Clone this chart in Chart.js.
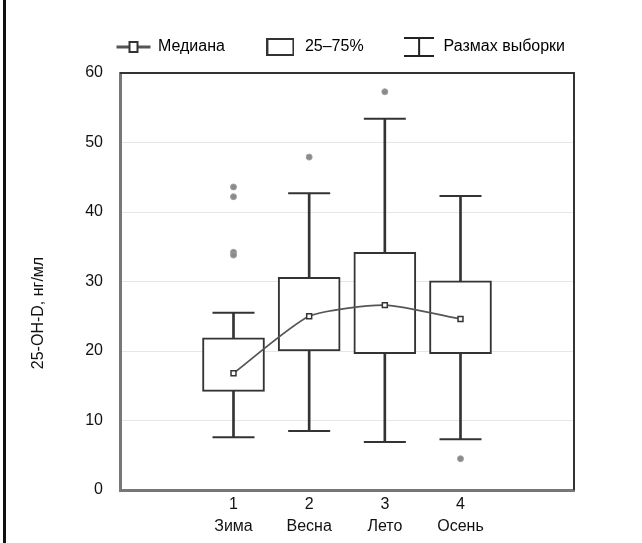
<!DOCTYPE html>
<html>
<head>
<meta charset="utf-8">
<script src="https://cdn.jsdelivr.net/npm/chart.js@4.4.0/dist/chart.umd.min.js"></script>
<style>
  html, body { margin: 0; padding: 0; background: #fff; }
  #wrap { position: relative; width: 642px; height: 543px; }
  #wrap:before { content: ""; position: absolute; left: 3px; top: 0; width: 3px; height: 543px; background: #111; }
</style>
</head>
<body>
<div id="wrap"><canvas id="chart" width="642" height="543"></canvas></div>
<script>
// Box plot values
const positions = [1, 2, 3, 4];
const numLabels = ["1", "2", "3", "4"];
const seasons = ["Зима", "Весна", "Лето", "Осень"];
const whiskerLow = [7.6, 8.5, 6.9, 7.3];
const q1 = [14.2, 20.0, 19.6, 19.6];
const medians = [16.8, 25.0, 26.6, 24.6];
const q3 = [21.9, 30.6, 34.2, 30.1];
const whiskerHigh = [25.5, 42.7, 53.4, 42.3];
const outlierX = [1, 1, 1, 1, 2, 3, 4];
const outlierY = [43.6, 42.2, 34.2, 33.8, 47.9, 57.3, 4.5];
const xTicks = [0, 1, 2, 3, 4, 5];
const legendTexts = ["Медиана", "25–75%", "Размах выборки"];
const yTitle = "25-OH-D, нг/мл";

const FONT = '"Liberation Sans", Arial, sans-serif';
const ink = "#333";

// Small legend icons
function makeIcon(w, h, draw) {
  const c = document.createElement("canvas");
  c.width = w;
  c.height = h;
  const g = c.getContext("2d");
  draw(g);
  return c;
}

const medianIcon = makeIcon(36, 14, (g) => {
  g.strokeStyle = "#555";
  g.lineWidth = 3;
  g.beginPath();
  g.moveTo(1, 7);
  g.lineTo(35, 7);
  g.stroke();
  g.fillStyle = "#fff";
  g.fillRect(14, 2, 8, 10);
  g.strokeStyle = ink;
  g.lineWidth = 2;
  g.strokeRect(14, 2, 8, 10);
});

const boxIcon = makeIcon(28, 18, (g) => {
  g.strokeStyle = ink;
  g.lineWidth = 2;
  g.strokeRect(1, 1, 26, 16);
});

const whiskerIcon = makeIcon(30, 22, (g) => {
  g.strokeStyle = "#222";
  g.lineWidth = 2;
  g.beginPath();
  g.moveTo(0, 2); g.lineTo(30, 2);
  g.moveTo(15, 2); g.lineTo(15, 20);
  g.moveTo(0, 20); g.lineTo(30, 20);
  g.stroke();
});

const legendIcons = [medianIcon, boxIcon, whiskerIcon];

const toPoints = (xs, ys) => xs.map((x, i) => ({ x: x, y: ys[i] }));
const toRanges = (lo, hi) => positions.map((x, i) => ({ x: x, y: [lo[i], hi[i]] }));

// Frame on top and right of the plot, fixed legend height, rotated axis title
const framePlugin = {
  id: "frame",
  beforeInit(chart) {
    const fit = chart.legend.fit;
    chart.legend.fit = function () {
      fit.call(this);
      this.height = 73;
    };
  },
  beforeDatasetsDraw(chart) {
    const { ctx, chartArea } = chart;
    ctx.save();
    ctx.strokeStyle = ink;
    ctx.lineWidth = 2;
    ctx.beginPath();
    ctx.moveTo(chartArea.left, chartArea.top);
    ctx.lineTo(chartArea.right, chartArea.top);
    ctx.lineTo(chartArea.right, chartArea.bottom);
    ctx.stroke();
    ctx.restore();
  },
  afterDraw(chart) {
    const ctx = chart.ctx;
    ctx.save();
    ctx.translate(39, 313);
    ctx.rotate(-Math.PI / 2);
    ctx.font = "16px " + FONT;
    ctx.fillStyle = "#111";
    ctx.textAlign = "center";
    ctx.textBaseline = "middle";
    ctx.fillText(yTitle, 0, 0);
    ctx.restore();
  },
};

new Chart(document.getElementById("chart"), {
  type: "bar",
  data: {
    datasets: [
      {
        type: "line",
        label: legendTexts[0],
        data: toPoints(positions, medians),
        borderColor: "#555",
        borderWidth: 1.8,
        tension: 0.2,
        pointStyle: "rect",
        pointRadius: 3.5,
        pointBackgroundColor: "#fff",
        pointBorderColor: ink,
        pointBorderWidth: 1.5,
        order: 0,
      },
      {
        type: "scatter",
        label: "outliers",
        data: toPoints(outlierX, outlierY),
        pointStyle: "circle",
        pointRadius: 3,
        backgroundColor: "#8a8a8a",
        borderColor: "#a0a0a0",
        borderWidth: 1,
        order: 1,
      },
      {
        type: "scatter",
        label: "caps",
        data: toPoints(positions, whiskerLow).concat(toPoints(positions, whiskerHigh)),
        pointStyle: "line",
        pointRadius: 21,
        borderColor: ink,
        borderWidth: 2,
        order: 2,
      },
      {
        label: "whiskerLow",
        data: toRanges(whiskerLow, q1),
        backgroundColor: ink,
        borderWidth: 0,
        barThickness: 2,
        grouped: false,
        order: 3,
      },
      {
        label: "whiskerHigh",
        data: toRanges(q3, whiskerHigh),
        backgroundColor: ink,
        borderWidth: 0,
        barThickness: 2,
        grouped: false,
        order: 3,
      },
      {
        label: legendTexts[1],
        data: toRanges(q1, q3),
        backgroundColor: "#fff",
        borderColor: ink,
        borderWidth: 2,
        borderSkipped: false,
        barThickness: 62,
        grouped: false,
        order: 4,
      },
    ],
  },
  options: {
    responsive: false,
    animation: false,
    events: [],
    layout: { padding: { left: 40, right: 0, top: 0, bottom: 0 } },
    plugins: {
      tooltip: { enabled: false },
      legend: {
        display: true,
        position: "top",
        labels: {
          usePointStyle: true,
          pointStyleWidth: 33,
          padding: 39,
          color: "#111",
          font: { family: FONT, size: 16 },
          generateLabels: () =>
            legendTexts.map((text, i) => ({
              text: text,
              pointStyle: legendIcons[i],
              fillStyle: "#fff",
              strokeStyle: ink,
              lineWidth: 0,
              hidden: false,
              datasetIndex: i,
            })),
        },
      },
    },
    scales: {
      x: {
        type: "linear",
        position: "bottom",
        offset: false,
        min: -0.5,
        max: 5.5,
        afterFit: (scale) => { scale.height = 53; },
        afterBuildTicks: (scale) => { scale.ticks = xTicks.map((v) => ({ value: v })); },
        ticks: {
          autoSkip: false,
          maxRotation: 0,
          padding: 4,
          color: "#111",
          font: { family: FONT, size: 16, lineHeight: 1.375 },
          callback: (value) => {
            const i = positions.indexOf(value);
            return i >= 0 ? [numLabels[i], seasons[i]] : "";
          },
        },
        grid: { display: false, drawTicks: false },
        border: { display: true, color: "#777", width: 3 },
      },
      y: {
        min: 0,
        max: 60,
        afterFit: (scale) => { scale.width = 80; },
        ticks: {
          stepSize: 10,
          padding: 17,
          color: "#111",
          font: { family: FONT, size: 16 },
        },
        grid: {
          drawTicks: false,
          color: (c) => (c.tick && (c.tick.value === 0 || c.tick.value === 60) ? "rgba(0,0,0,0)" : "#e6e6e6"),
        },
        border: { display: true, color: "#777", width: 3 },
      },
      yRight: {
        type: "linear",
        position: "right",
        min: 0,
        max: 60,
        afterFit: (scale) => { scale.width = 68; },
        ticks: { display: false },
        grid: { display: false },
        border: { display: false },
      },
    },
  },
  plugins: [framePlugin],
});
</script>
</body>
</html>
